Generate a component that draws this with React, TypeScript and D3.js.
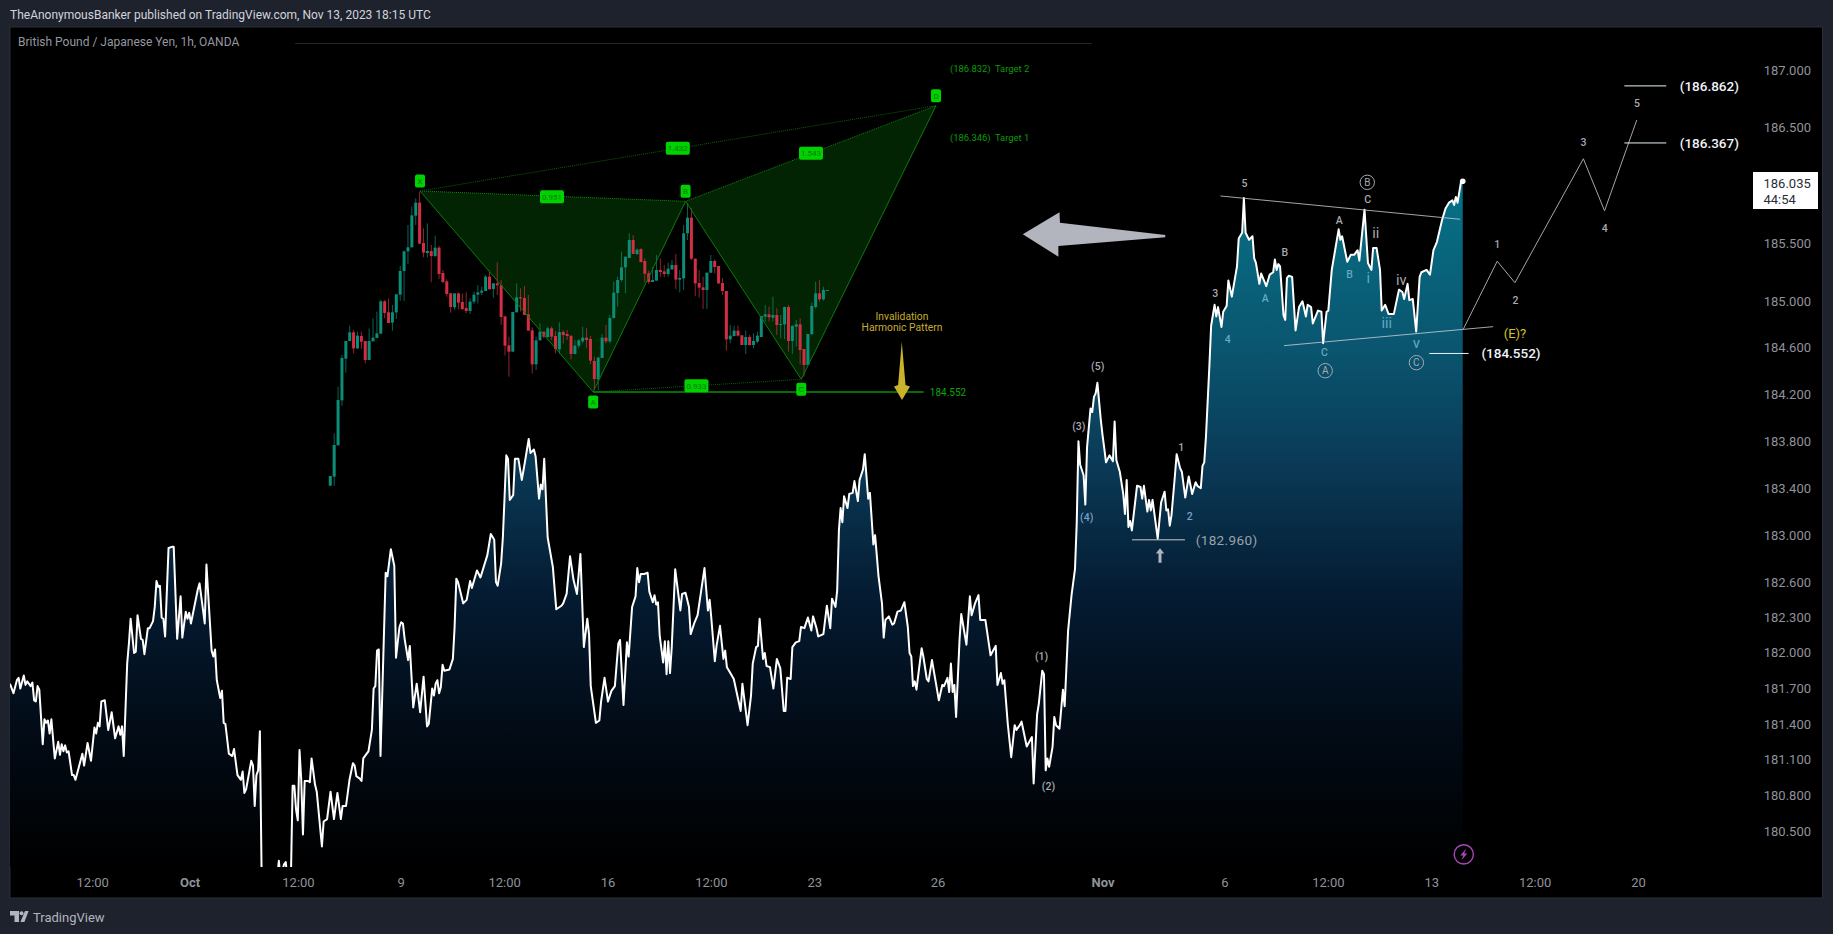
import * as d3 from "d3";

// hourly closes: [bar, price]
const closePoints: [number, number][] = [
  [0,181.74],[2,181.66],[4,181.77],[5,181.79],[6,181.7],[8,181.81],[9,181.73],[10,181.76],[12,181.72],[13,181.75],[14,181.6],[15,181.59],[16,181.72],[17,181.69],[19,181.23],[20,181.44],[21,181.41],[22,181.43],[23,181.32],[24,181.44],[26,181.11],[28,181.25],[29,181.14],[30,181.23],[31,181.17],[32,181.22],[33,181.16],[34,181.17],[36,180.97],[37,180.97],[38,180.93],[40,181.04],[42,181.15],[43,181.05],[45,181.24],[47,181.09],[49,181.37],[50,181.32],[51,181.41],[52,181.38],[53,181.59],[55,181.6],[57,181.35],[59,181.5],[61,181.28],[63,181.38],[64,181.31],[65,181.38],[66,181.13],
  [68,181.91],[69,182.08],[70,182.29],[72,182.0],[73,182.01],[74,182.32],[76,182.12],[77,182.11],[78,181.99],[80,182.21],[81,182.21],[83,182.27],[84,182.39],[85,182.61],[86,182.56],[87,182.57],[88,182.3],[89,182.29],[90,182.14],[92,182.89],[94,182.9],[95,182.9],[97,182.12],[99,182.48],[100,182.13],[102,182.35],[103,182.29],[104,182.34],[105,182.25],[109,182.54],[110,182.59],[113,182.25],[114,182.75],[115,182.5],[117,182.02],[118,181.97],[119,182.03],[120,181.77],[122,181.62],[123,181.68],[124,181.41],[125,181.4],[127,181.15],[128,181.14],[129,181.13],[130,181.19],[132,180.97],[134,180.93],[135,181.0],[136,180.82],[137,180.85],[140,181.09],[141,181.05],[142,180.71],[143,180.97],[144,181.01],[145,181.34],
  [146,180.15],[148,179.95],[152,179.9],[155,180.1],[156,180.25],[157,180.1],[159,180.22],[160,180.24],[161,180.1],[163,180.1],[164,180.88],[165,180.88],[166,180.68],[167,180.59],[168,181.18],[169,180.93],[170,180.47],[171,180.92],[173,180.92],[174,180.91],[175,181.11],[177,180.89],[178,180.83],[181,180.37],[182,180.58],[184,180.6],[186,180.83],[188,180.6],[190,180.82],[192,180.6],[193,180.71],[195,180.71],[197,180.93],[199,181.07],[200,181.05],[201,180.96],[203,180.94],[204,180.92],[205,181.11],[207,181.15],[208,181.17],[210,181.35],[211,181.7],[212,181.72],[213,182.02],[214,182.03],[215,181.13],[218,182.68],[219,182.65],[221,182.88],[223,182.74],[224,181.96],[226,182.22],[227,182.26],[228,182.25],[229,182.12],[231,181.94],[232,182.06],[234,181.54],[236,181.74],[238,181.5],[240,181.8],[242,181.38],[243,181.4],[245,181.7],[246,181.64],[247,181.74],[248,181.77],[249,181.66],[250,181.71],[251,181.9],[252,181.85],[255,181.86],[257,181.95],[258,182.22],[259,182.63],[260,182.6],[263,182.42],[265,182.45],[267,182.61],[268,182.55],[270,182.65],[271,182.7],[273,182.64],[277,182.83],[279,183.01],[281,182.96],[282,182.6],[283,182.57],[285,182.76],[286,182.98],[288,183.68],[289,183.65],[290,183.3],[292,183.34],[293,183.65],[295,183.65],[297,183.47],[299,183.64],[301,183.82],[302,183.7],[304,183.73],[305,183.67],[307,183.31],[308,183.43],[309,183.39],[310,183.65],[312,182.98],[315,182.73],[317,182.37],[320,182.4],[321,182.42],[323,182.5],[325,182.82],[327,182.62],[329,182.5],[331,182.84],[333,182.05],[335,182.29],[336,182.16],[337,181.72],[340,181.41],[342,181.43],
  [343,181.59],[345,181.79],[347,181.59],[349,181.68],[351,181.72],[353,182.08],[354,182.11],[356,181.56],[358,182.09],[359,181.97],[361,182.39],[363,182.48],[364,182.72],[365,182.6],[366,182.67],[368,182.67],[370,182.68],[371,182.52],[373,182.43],[374,182.49],[375,182.41],[376,182.43],[377,182.15],[379,181.92],[380,182.1],[381,181.82],[382,182.1],[383,181.83],[384,182.05],[386,182.71],[389,182.36],[390,182.5],[392,182.51],[394,182.39],[395,182.16],[397,182.25],[399,182.32],[401,182.52],[403,182.72],[405,182.36],[406,182.45],[407,182.29],[409,181.93],[410,182.06],[412,182.23],[414,181.95],[415,182.02],[416,181.88],[418,181.83],[420,181.78],[424,181.51],[425,181.74],[428,181.39],[430,181.64],[431,181.91],[433,182.05],[434,182.06],[435,182.29],[437,181.95],[438,182.0],[439,181.89],[441,181.88],[443,181.7],[445,181.95],[447,181.87],[449,181.51],[450,181.51],[451,181.79],[453,181.78],[454,182.05],[456,182.09],[458,182.1],[459,182.22],[461,182.21],[463,182.3],[465,182.19],[466,182.31],[468,182.21],[469,182.14],[472,182.16],[474,182.4],[476,182.21],[477,182.46],[479,182.39],[480,182.53],[481,183.04],[482,183.23],[483,183.11],[484,183.33],[486,183.23],[487,183.35],[489,183.36],[490,183.46],[492,183.29],[493,183.47],[495,183.56],[496,183.69],[498,183.31],[499,183.36],[501,182.92],[502,183.0],[504,182.65],[506,182.42],[507,182.13],[508,182.28],[510,182.31],[512,182.24],[513,182.25],[515,182.35],[517,182.36],[519,182.43],[521,182.22],[522,182.0],[523,181.97],[524,181.72],[525,181.76],[526,181.69],[529,182.04],[530,181.97],[532,181.78],[533,181.76],[535,181.94],[537,181.77],[539,181.6],[541,181.73],[542,181.72],[544,181.79],[545,181.67],[546,181.91],[547,181.67],[548,181.73],[549,181.46],[551,182.11],[552,182.33],[555,182.07],[557,182.48],[558,182.32],[560,182.42],[562,182.49],[563,182.28],[566,182.28],[569,181.98],[572,182.06],[573,181.73],[575,181.83],[576,181.74],[577,181.77],[579,181.4],[581,181.12],[583,181.39],[584,181.35],[586,181.39],[587,181.42],[589,181.28],[590,181.21],[593,181.29],[594,180.9],[596,181.48],[597,181.57],[599,181.85],[600,181.82],[601,181.01],[602,181.11],[603,181.04],[605,181.21],[606,181.46],[607,181.39],[609,181.36],[611,181.69],[612,181.55],[614,182.19],[616,182.49],[618,182.71],[619,183.1],
  [620,183.8],[621,183.6],[623,183.51],[624,183.26],[625,183.75],[627,184.08],[628,184.05],[629,184.18],[630,184.21],[631,184.3],[633,183.98],[634,183.85],[635,183.74],[636,183.62],[638,183.68],[640,183.63],[641,183.97],[642,183.64],[644,183.54],[646,183.35],[647,183.18],[648,183.47],[649,183.07],[650,183.12],[651,183.04],[654,183.42],[656,183.41],[657,183.31],[658,183.42],[660,183.2],[661,183.3],[662,183.21],[663,183.3],[666,182.97],[668,183.28],[670,183.37],[671,183.21],[672,183.22],[673,183.08],[674,183.17],[676,183.51],[677,183.69],[679,183.57],[680,183.54],[682,183.32],[684,183.5],[686,183.35],[688,183.45],[689,183.42],[691,183.4],[692,183.59],[693,183.62],[694,183.84],[696,184.45],[697,184.79],[699,184.97],[700,184.87],[701,184.95],[703,184.78],[704,184.91],[706,184.96],[707,185.18],[709,185.04],[712,185.3],[713,185.54],[715,185.59],[716,185.89],[717,185.59],[719,185.53],[721,185.56],[722,185.37],[723,185.33],[725,185.15],[726,185.24],[729,185.13],[731,185.23],[733,185.25],[734,185.36],[735,185.27],[736,185.32],[737,185.3],[739,184.88],[740,184.84],[741,185.2],[742,185.22],[744,185.21],[746,184.75],[748,184.95],[750,185.0],[752,184.87],[753,184.97],[755,184.95],[756,184.81],[759,184.92],[761,184.91],[762,184.64],[764,184.91],[765,184.92],[767,185.27],[771,185.62],[772,185.53],[773,185.56],[776,185.34],[778,185.4],[780,185.4],[782,185.44],[783,185.35],[786,185.79],[788,185.33],[790,185.27],[791,185.46],[793,185.46],[795,185.27],[796,184.92],[798,184.97],[800,184.89],[803,184.89],[806,185.1],[808,185.08],[809,185.02],[811,185.15],[812,185.01],[814,185.02],[816,184.74],[818,185.21],[819,185.25],[822,185.27],[824,185.23],[826,185.44],[828,185.51],[831,185.7],[833,185.8],[835,185.85],[837,185.87],[838,185.83],[839,185.9],[840,185.85],[842,186.03],[843,186.035],
];

// candles of the pasted harmonic pattern: [open, high, low, close]
const candleRows: [number, number, number, number][] = [
  [183.99,184.048,183.99,184.048],[184.044,184.304,183.988,184.234],[184.232,184.584,184.232,184.504],[184.502,184.774,184.47,184.756],[184.752,184.858,184.668,184.858],[184.858,184.95,184.858,184.91],[184.91,184.924,184.784,184.814],[184.814,184.914,184.81,184.89],[184.888,184.914,184.81,184.854],[184.858,184.858,184.724,184.744],
  [184.744,184.934,184.744,184.858],[184.856,184.994,184.856,184.878],[184.876,185.034,184.876,184.904],[184.902,185.104,184.902,185.096],[185.096,185.104,184.994,185.026],[185.03,185.114,184.966,184.966],[184.968,185.074,184.92,185.03],[185.03,185.138,184.99,185.138],[185.136,185.308,185.1,185.278],[185.278,185.4,185.098,185.396],
  [185.396,185.554,185.32,185.42],[185.42,185.664,185.42,185.612],[185.61,185.714,185.554,185.688],[185.688,185.754,185.442,185.442],[185.446,185.534,185.36,185.388],[185.386,185.564,185.36,185.398],[185.398,185.434,185.21,185.368],[185.368,185.49,185.36,185.418],[185.418,185.428,185.23,185.26],[185.266,185.284,185.204,185.212],
  [185.216,185.228,185.124,185.14],[185.144,185.148,185.028,185.062],[185.06,185.144,185.044,185.144],[185.144,185.148,185.048,185.088],[185.092,185.144,185.044,185.05],[185.056,185.15,185.024,185.038],[185.038,185.114,185.02,185.094],[185.094,185.154,185.08,185.136],[185.136,185.194,185.084,185.15],[185.148,185.184,185.134,185.16],
  [185.158,185.254,185.158,185.244],[185.244,185.28,185.168,185.168],[185.17,185.204,185.118,185.204],[185.204,185.33,185.134,185.192],[185.192,185.224,184.954,185.002],[185.006,185.006,184.77,184.83],[184.832,184.884,184.644,184.794],[184.794,185.032,184.794,185.032],[185.03,185.204,185.03,185.12],[185.12,185.174,185.034,185.114],
  [185.116,185.188,185.014,185.014],[185.018,185.134,184.92,184.92],[184.922,184.94,184.664,184.718],[184.718,184.884,184.684,184.862],[184.862,184.964,184.86,184.914],[184.914,184.914,184.874,184.884],[184.882,184.944,184.878,184.934],[184.934,184.944,184.864,184.884],[184.888,184.918,184.784,184.81],[184.808,184.97,184.78,184.912],
  [184.912,184.924,184.844,184.894],[184.9,184.924,184.864,184.888],[184.89,184.89,184.748,184.78],[184.78,184.864,184.78,184.83],[184.83,184.868,184.814,184.862],[184.856,184.944,184.844,184.878],[184.878,184.934,184.814,184.864],[184.87,184.888,184.72,184.74],[184.738,184.764,184.564,184.63],[184.628,184.764,184.564,184.758],
  [184.756,184.9,184.756,184.878],[184.878,184.954,184.844,184.856],[184.856,185.014,184.844,184.996],[184.996,185.214,184.994,185.148],[185.146,185.244,185.064,185.224],[185.224,185.394,185.214,185.3],[185.3,185.364,185.144,185.364],[185.356,185.504,185.356,185.464],[185.464,185.494,185.38,185.38],[185.38,185.414,185.374,185.406],
  [185.41,185.414,185.33,185.332],[185.338,185.354,185.208,185.262],[185.264,185.28,185.2,185.212],[185.212,185.3,185.212,185.224],[185.22,185.374,185.22,185.284],[185.284,185.354,185.244,185.272],[185.276,185.314,185.24,185.26],[185.26,185.328,185.244,185.292],[185.288,185.344,185.284,185.314],[185.314,185.38,185.17,185.226],
  [185.226,185.284,185.15,185.236],[185.234,185.554,185.164,185.504],[185.504,185.684,185.464,185.598],[185.598,185.654,185.344,185.352],[185.352,185.352,185.128,185.204],[185.206,185.284,185.118,185.178],[185.18,185.244,185.05,185.164],[185.164,185.268,185.05,185.268],[185.268,185.374,185.264,185.338],[185.338,185.348,185.264,185.302],
  [185.308,185.308,185.2,185.204],[185.206,185.234,185.134,185.158],[185.158,185.158,184.8,184.868],[184.868,184.954,184.844,184.89],[184.888,184.95,184.884,184.92],[184.92,184.95,184.884,184.89],[184.892,184.894,184.834,184.834],[184.834,184.92,184.78,184.882],[184.882,184.894,184.83,184.834],[184.834,184.904,184.814,184.858],
  [184.854,184.914,184.844,184.89],[184.882,185.008,184.88,185.008],[185.004,185.074,184.974,185.018],[185.018,185.064,184.974,185.0],[184.998,185.124,184.974,185.014],[185.014,185.054,184.894,184.954],[184.954,185.014,184.874,184.96],[184.958,185.064,184.868,185.062],[185.062,185.074,184.794,184.858],[184.858,184.954,184.78,184.948],
  [184.944,184.984,184.824,184.958],[184.958,184.994,184.718,184.804],[184.81,184.81,184.644,184.714],[184.714,184.9,184.714,184.9],[184.9,185.088,184.894,185.068],[185.062,185.214,185.054,185.144],[185.144,185.224,185.094,185.108],[185.108,185.184,185.1,185.164],[185.162,185.164,185.162,185.164],
];

const priceTicks = [187, 186.5, 185.5, 185, 184.6, 184.2, 183.8, 183.4, 183, 182.6, 182.3, 182, 181.7, 181.4, 181.1, 180.8, 180.5];
const timeBars = [48, 104.5, 167.4, 227, 287, 347, 407, 467, 538.5, 634.3, 705, 765, 825, 885, 945];
const timeLabels = ["12:00", "Oct", "12:00", "9", "12:00", "16", "12:00", "23", "26", "Nov", "6", "12:00", "13", "12:00", "20"];

// harmonic pattern pivots in the pasted chart
const pivotNames = ["X", "A", "B", "C", "D"];
const pivotBars = [23.1, 67.7, 91.5, 121.3, 156];
const pivotPrices = [185.758, 184.552, 185.696, 184.628, 186.27];
const ratioLabels = ["0.951", "1.432", "1.543", "0.933"];
const ratioBars = [57.1, 89.5, 123.8, 94.3];
const ratioPrices = [185.724, 186.014, 185.984, 184.59];

// wave counts: [text, bar, price, tone]
const waveLabels: [string, number, number, string][] = [
  ["(3)", 620.2, 183.924, "grey"], ["(5)", 631.2, 184.439, "grey"], ["(4)", 624.8, 183.148, "slate"],
  ["1", 679.7, 183.748, "grey"], ["2", 684.6, 183.163, "slate"], ["(1)", 598.6, 181.968, "grey"], ["(2)", 602.6, 180.873, "grey"],
  ["3", 699.4, 185.071, "grey"], ["4", 706.6, 184.676, "blue"], ["5", 716.3, 186.02, "grey"],
  ["A", 728.4, 185.026, "blue"], ["B", 739.7, 185.422, "grey"], ["C", 762.7, 184.562, "blue"],
  ["A", 771.4, 185.698, "grey"], ["B", 777.4, 185.233, "blue"], ["C", 787.8, 185.882, "grey"], ["V", 816.1, 184.627, "blue"],
  ["1", 863, 185.491, "grey"], ["2", 873.6, 185.011, "grey"], ["3", 913, 186.375, "grey"], ["4", 925.4, 185.629, "grey"], ["5", 944.1, 186.713, "grey"],
];
const romanLabels: [string, number, number, string][] = [
  ["ii", 792.5, 185.586, "grey"], ["i", 788.2, 185.204, "blue"], ["iii", 798.9, 184.811, "blue"], ["iv", 807.3, 185.184, "grey"],
];
const circledLabels: [string, number, number][] = [["A", 763.2, 184.404], ["B", 787.6, 186.026], ["C", 816.1, 184.473]];

const projectionPoints: [number, number][] = [[843.3, 184.76], [863, 185.345], [873.3, 185.16], [913, 186.23], [925.3, 185.78], [944, 186.566]];
const trendLines: [number, number, number, number][] = [
  [702.4, 185.908, 841.4, 185.707],
  [739.3, 184.619, 860.6, 184.782],
];
// horizontal levels: [price, from bar, to bar, label bar]
const levels: [number, number, number, number][] = [
  [186.862, 936.8, 961.1, 986.1],
  [186.367, 936.8, 961.1, 986.1],
  [184.552, 823.6, 846.4, 871],
];

const W = 1833;
const H = 934;
const pane = { left: 10, right: 1822.5, top: 27, bottom: 898, plotBottom: 867 };
const ui = "Roboto, sans-serif";

const xScale = d3.scaleLinear().domain([0, 1052]).range([10, 1822.9]);
const yScale = d3.scaleLog().domain([180.5, 187]).range([831, 70]);
const insetX = d3.scaleLinear().domain([0, 128]).range([330.3, 827.3]);
const insetY = d3.scaleLinear().domain([184.552, 185.824]).range([392, 180]);

const toneColor: Record<string, string> = { grey: "#a6a9b1", slate: "#7b9fc2", blue: "#62a9c4" };

export default function App() {
  const line = d3
    .line<[number, number]>()
    .x((d) => xScale(d[0]))
    .y((d) => yScale(d[1]));
  const area = d3
    .area<[number, number]>()
    .x((d) => xScale(d[0]))
    .y0(pane.plotBottom)
    .y1((d) => yScale(d[1]));
  const last = closePoints[closePoints.length - 1];

  const pivot = (i: number): [number, number] => [insetX(pivotBars[i]), insetY(pivotPrices[i])];
  const triangle = (a: number, b: number, c: number) => d3.line()([pivot(a), pivot(b), pivot(c)]) + "Z";
  const segment = (a: number, b: number) => d3.line()([pivot(a), pivot(b)]) ?? "";

  const arrowTip = [xScale(587.7), yScale(185.577)];
  const bolt = [xScale(843.6), 854.4];

  return (
    <svg
      width={W}
      height={H}
      style={{ position: "absolute", left: 0, top: 0, display: "block", fontFamily: ui }}
    >
      <defs>
        <linearGradient id="areaFill" gradientUnits="userSpaceOnUse" x1="0" x2="0" y1="170" y2={pane.plotBottom}>
          <stop offset="0%" stopColor="#067488" />
          <stop offset="25%" stopColor="#0a5670" />
          <stop offset="42%" stopColor="#0a3a57" />
          <stop offset="62%" stopColor="#041a30" />
          <stop offset="82%" stopColor="#020a14" />
          <stop offset="100%" stopColor="#000000" />
        </linearGradient>
        <clipPath id="plotClip">
          <rect x={pane.left} y={pane.top} width={pane.right - pane.left} height={pane.plotBottom - pane.top} />
        </clipPath>
      </defs>

      <rect width={W} height={H} fill="#1e222d" />
      <rect
        x={pane.left}
        y={pane.top}
        width={pane.right - pane.left}
        height={pane.bottom - pane.top}
        fill="#000"
        stroke="#2a2e39"
      />

      <text x={10} y={19} fontSize={12} fill="#d1d4dc">
        TheAnonymousBanker published on TradingView.com, Nov 13, 2023 18:15 UTC
      </text>
      <text x={18} y={45.5} fontSize={12} fill="#9598a1">
        British Pound / Japanese Yen, 1h, OANDA
      </text>
      <line x1={295} x2={1092} y1={43.5} y2={43.5} stroke="#23262e" />

      {/* Area and close line */}
      <g clipPath="url(#plotClip)">
        <path d={area(closePoints) ?? ""} fill="url(#areaFill)" />
        <path d={line(closePoints) ?? ""} fill="none" stroke="#fff" strokeWidth={2} strokeLinejoin="round" />
      </g>
      <circle cx={xScale(last[0])} cy={yScale(last[1])} r={2.8} fill="#fff" />

      {/* Pasted harmonic pattern */}
      <path d={triangle(0, 1, 2)} fill="#032403" />
      <path d={triangle(2, 3, 4)} fill="#032403" />
      {candleRows.map(([o, h, l, c], i) => {
        const color = c >= o ? "#0b8d78" : "#d22f45";
        const top = insetY(Math.max(o, c));
        const bottom = insetY(Math.min(o, c));
        return (
          <g key={i}>
            <line x1={insetX(i)} x2={insetX(i)} y1={insetY(h)} y2={insetY(l)} stroke={color} strokeOpacity={0.7} />
            <rect x={insetX(i) - 1.5} y={top} width={3} height={Math.max(bottom - top, 1)} fill={color} />
          </g>
        );
      })}
      {[[0, 1], [1, 2], [2, 3], [3, 4]].map(([a, b]) => (
        <path key={`${a}${b}`} d={segment(a, b)} stroke="#0c7a0a" strokeWidth={1} fill="none" />
      ))}
      {[[0, 2, "#0f8a0c"], [2, 4, "#0f8a0c"], [0, 4, "#0b5f09"], [1, 3, "#0b5f09"]].map(([a, b, c]) => (
        <path
          key={`d${a}${b}`}
          d={segment(a as number, b as number)}
          stroke={c as string}
          strokeWidth={1}
          strokeDasharray="1 1"
          fill="none"
        />
      ))}
      <line x1={insetX(pivotBars[1])} x2={923.7} y1={insetY(184.552)} y2={insetY(184.552)} stroke="#0b8a09" strokeWidth={1.4} />
      <text x={948} y={insetY(184.552) + 3.5} fontSize={10} textAnchor="middle" fill="#0ba50a">184.552</text>
      {pivotNames.map((name, i) => {
        const [px, py] = pivot(i);
        const ly = py + (name === "A" || name === "C" ? 10 : -10);
        return (
          <g key={name}>
            <rect x={px - 5} y={ly - 6.5} width={10} height={13} rx={2} fill="#00d100" />
            <text x={px} y={ly + 3} fontSize={8} textAnchor="middle" fill="#067a06">{name}</text>
          </g>
        );
      })}
      {ratioLabels.map((label, i) => {
        const px = insetX(ratioBars[i]);
        const py = insetY(ratioPrices[i]);
        return (
          <g key={label}>
            <rect x={px - 12} y={py - 6.5} width={24} height={13} rx={2} fill="#00d100" />
            <text x={px} y={py + 3} fontSize={8} textAnchor="middle" fill="#067a06">{label}</text>
          </g>
        );
      })}
      <text x={950} y={72} fontSize={9.4} fill="#0a9d0a" xmlSpace="preserve">(186.832)  Target 2</text>
      <text x={950} y={141} fontSize={9.4} fill="#0a9d0a" xmlSpace="preserve">(186.346)  Target 1</text>
      <text x={902} y={320} fontSize={10.3} textAnchor="middle" fill="#c7ad2c">Invalidation</text>
      <text x={902} y={330.5} fontSize={10.3} textAnchor="middle" fill="#c7ad2c">Harmonic Pattern</text>
      <path d="M901.8 341.7 L905.5 385 L910 386.5 L902 400 L894 386.5 L898.1 385 Z" fill="#c9b22c" />

      {/* Big arrow */}
      <path
        d={`M${arrowTip[0]} ${arrowTip[1]} l36.7 -22 l0.5 10.4 l105.3 12.3 l0 2.3 l-106.9 8.7 l0 10.7 Z`}
        fill="#b2b5be"
      />

      {/* Elliott wave drawings */}
      {trendLines.map(([x0, y0, x1, y1]) => (
        <line key={x0} x1={xScale(x0)} x2={xScale(x1)} y1={yScale(y0)} y2={yScale(y1)} stroke="#c9ced6" strokeOpacity={0.8} />
      ))}
      <path
        d={d3.line().x((d) => xScale(d[0])).y((d) => yScale(d[1]))(projectionPoints) ?? ""}
        fill="none"
        stroke="#a3a6ae"
      />
      {levels.map(([price, from, to, labelBar]) => (
        <g key={price}>
          <line x1={xScale(from)} x2={xScale(to)} y1={yScale(price)} y2={yScale(price)} stroke="#e6f4fa" />
          <text x={xScale(labelBar)} y={yScale(price) + 4.7} fontSize={13.5} fontWeight={500} textAnchor="middle" fill="#f0f3fa">
            ({price.toFixed(3)})
          </text>
        </g>
      ))}
      <line x1={xScale(651.1)} x2={xScale(681.8)} y1={yScale(182.96)} y2={yScale(182.96)} stroke="#c8cacd" />
      <text x={xScale(706)} y={yScale(182.96) + 5} fontSize={13.5} textAnchor="middle" fill="#9ea2ab" letterSpacing={0.4}>(182.960)</text>
      <path d="M1160 548.3 l4.2 5.2 l-2.7 0 l0 9.2 l-3 0 l0 -9.2 l-2.7 0 Z" fill="#b2b5be" />

      {waveLabels.map(([label, bar, price, tone], i) => (
        <text key={i} x={xScale(bar)} y={yScale(price) + 3.7} fontSize={10.5} fontWeight={500} textAnchor="middle" fill={toneColor[tone]}>
          {label}
        </text>
      ))}
      {romanLabels.map(([label, bar, price, tone], i) => (
        <text key={i} x={xScale(bar)} y={yScale(price) + 5} fontSize={14.5} textAnchor="middle" fill={toneColor[tone]}>
          {label}
        </text>
      ))}
      {circledLabels.map(([label, bar, price]) => (
        <g key={label}>
          <circle cx={xScale(bar)} cy={yScale(price)} r={7.2} fill="none" stroke="#a6a9b1" />
          <text x={xScale(bar)} y={yScale(price) + 3.6} fontSize={10} textAnchor="middle" fill="#a6a9b1">{label}</text>
        </g>
      ))}
      <text x={xScale(873.3)} y={yScale(184.73) + 5} fontSize={13} textAnchor="middle" fill="#d9c229">(E)?</text>

      {/* Earnings style bolt */}
      <circle cx={bolt[0]} cy={bolt[1]} r={9.6} fill="none" stroke="#ab47bc" strokeWidth={1.4} />
      <path d={`M${bolt[0] + 2.5} ${bolt[1] - 6} l-6 7 l3 0 l-2 5 l6 -7 l-3 0 Z`} fill="#ab47bc" />

      {/* Price axis */}
      {priceTicks.map((tick) => (
        <text key={tick} x={1811} y={yScale(tick) + 4.5} fontSize={13} textAnchor="end" fill="#8f929b">
          {tick.toFixed(3)}
        </text>
      ))}
      <rect x={1753} y={172} width={65} height={37} fill="#fff" />
      <text x={1763.5} y={187.5} fontSize={13} fill="#2a2e39">186.035</text>
      <text x={1763.5} y={204} fontSize={13} fill="#2a2e39">44:54</text>

      {/* Time axis */}
      {timeBars.map((bar, i) => {
        const bold = timeLabels[i] === "Oct" || timeLabels[i] === "Nov";
        return (
          <text key={i} x={xScale(bar)} y={886.5} fontSize={13} textAnchor="middle" fontWeight={bold ? 700 : 400} fill="#8f929b">
            {timeLabels[i]}
          </text>
        );
      })}

      {/* Footer logo */}
      <path d="M10 911 h9 v11 h-4.5 v-6.5 h-4.5 Z M25 911 l3.6 0 l-4.2 11 l-4 0 Z" fill="#b2b5be" />
      <circle cx={21.5} cy={913.2} r={2} fill="#b2b5be" />
      <text x={33} y={921.5} fontSize={13} fill="#b2b5be">TradingView</text>
    </svg>
  );
}
